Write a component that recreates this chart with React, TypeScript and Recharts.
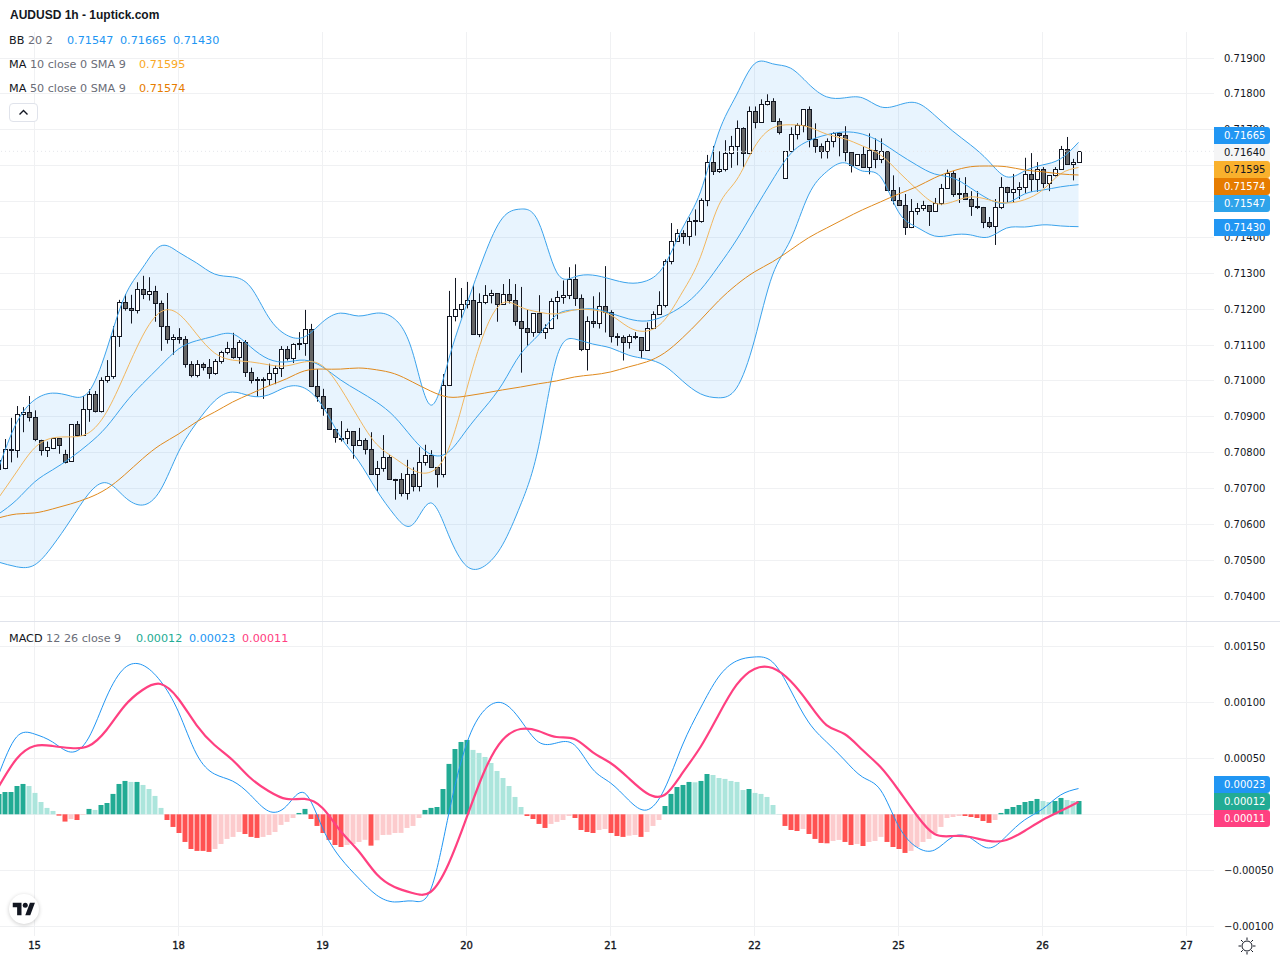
import { Area, Bar, CartesianGrid, Cell, ComposedChart, Line, ReferenceLine, XAxis, YAxis } from "recharts";

// candles, in price points (0.00001), one per hour
const opens = [
  70754,70757,70810,70807,70907,70913,70899,70836,70807,70814,
  70840,70796,70776,70879,70849,70921,70963,70917,71002,71013,
  71124,71219,71202,71197,71255,71241,71250,71216,71152,71116,
  71122,71116,71046,71016,71046,71038,71021,71055,71080,71091,
  71066,71108,71024,71005,71005,71005,71021,71035,71088,71063,
  71102,71105,71144,70987,70957,70924,70865,70842,70840,70860,
  70821,70835,70810,70740,70757,70787,70726,70726,70687,70740,
  70706,70773,70793,70759,70740,70988,71180,71200,71214,71225,
  71130,71219,71239,71244,71214,71241,71225,71166,71147,71137,
  71189,71136,71147,71222,71233,71239,71283,71230,71088,71166,
  71161,71208,71191,71124,71122,71108,71122,71122,71085,71147,
  71186,71211,71333,71389,71411,71403,71445,71447,71503,71609,
  71584,71590,71634,71654,71704,71634,71751,71721,71771,71779,
  71724,71565,71640,71687,71712,71757,71673,71654,71640,71668,
  71690,71685,71637,71601,71632,71595,71643,71618,71640,71531,
  71503,71490,71429,71474,71482,71490,71474,71496,71538,71580,
  71521,71524,71507,71488,71485,71443,71432,71485,71541,71527,
  71535,71541,71577,71563,71591,71552,71574,71591,71646,71605,
  71610,
];
const highs = [
  70789,70838,70897,70930,70927,70958,70918,70836,70831,70840,
  70840,70808,70879,70888,70958,70977,70972,71010,71058,71153,
  71226,71242,71240,71275,71293,71289,71265,71224,71245,71130,
  71147,71125,71055,71058,71051,71061,71061,71084,71109,71134,
  71114,71114,71037,71011,71010,71048,71043,71097,71097,71105,
  71136,71198,71159,71033,70978,70924,70865,70888,70867,70860,
  70869,70840,70857,70777,70849,70794,70727,70743,70780,70759,
  70815,70822,70807,70759,71019,71251,71287,71259,71276,71267,
  71244,71267,71254,71244,71270,71284,71270,71262,71200,71189,
  71239,71158,71230,71251,71280,71317,71325,71241,71180,71236,
  71247,71320,71197,71133,71127,71130,71136,71122,71163,71194,
  71250,71339,71440,71423,71420,71456,71478,71509,71630,71655,
  71640,71671,71683,71726,71707,71765,71765,71785,71799,71788,
  71732,71640,71707,71718,71757,71765,71718,71662,71676,71693,
  71693,71710,71637,71632,71654,71690,71676,71676,71640,71573,
  71540,71521,71507,71496,71502,71490,71510,71549,71589,71585,
  71566,71568,71529,71529,71485,71457,71507,71568,71541,71577,
  71554,71622,71635,71610,71596,71574,71596,71655,71680,71619,
  71640,
];
const lows = [
  70750,70754,70773,70786,70857,70887,70832,70792,70788,70810,
  70797,70770,70776,70845,70849,70886,70912,70912,70995,71006,
  71095,71196,71160,71188,71228,71224,71165,71084,71104,71073,
  71104,71037,71010,71010,71029,71006,71017,71048,71074,71062,
  71048,71011,70993,70956,70950,70986,70991,71011,71057,71050,
  71086,71070,70983,70942,70903,70865,70828,70831,70824,70783,
  70821,70795,70740,70692,70747,70726,70669,70678,70669,70692,
  70692,70764,70759,70703,70731,70988,71166,71175,71202,71130,
  71122,71214,71216,71165,71214,71216,71154,71023,71098,71123,
  71133,71117,71144,71172,71215,71228,71209,71083,71029,71148,
  71146,71135,71107,71098,71057,71090,71116,71063,71085,71147,
  71186,71205,71325,71389,71382,71377,71405,71441,71487,71574,
  71580,71584,71594,71601,71596,71632,71704,71721,71768,71724,
  71687,71565,71640,71673,71693,71651,71636,71620,71620,71651,
  71626,71612,71581,71601,71595,71576,71593,71607,71531,71492,
  71490,71407,71426,71463,71474,71432,71474,71490,71538,71513,
  71496,71507,71460,71479,71426,71426,71379,71479,71496,71496,
  71507,71524,71527,71527,71538,71529,71570,71588,71602,71559,
  71610,
];
const closes = [
  70780,70810,70808,70907,70913,70899,70837,70807,70815,70840,
  70821,70775,70879,70848,70921,70963,70917,71002,71013,71124,
  71219,71202,71197,71255,71241,71250,71216,71152,71116,71122,
  71116,71046,71016,71046,71038,71021,71055,71080,71091,71066,
  71108,71024,71002,71003,71002,71021,71035,71088,71063,71102,
  71105,71144,70987,70957,70924,70865,70843,70839,70860,70821,
  70835,70810,70740,70757,70787,70726,70727,70687,70740,70706,
  70773,70793,70759,70740,70988,71180,71200,71214,71225,71130,
  71219,71239,71244,71214,71241,71225,71166,71147,71137,71189,
  71136,71147,71222,71233,71239,71283,71230,71088,71166,71161,
  71208,71191,71124,71122,71108,71124,71124,71085,71147,71186,
  71211,71333,71389,71411,71403,71445,71448,71503,71609,71584,
  71590,71634,71654,71704,71634,71751,71721,71771,71779,71724,
  71693,71640,71687,71712,71757,71673,71654,71640,71668,71690,
  71685,71637,71601,71632,71595,71643,71618,71640,71531,71503,
  71490,71429,71474,71482,71490,71474,71496,71538,71580,71521,
  71524,71507,71488,71485,71443,71432,71485,71541,71527,71535,
  71541,71577,71563,71591,71552,71574,71591,71646,71605,71610,
  71640,
];

const LINE_STEP = 3;
const bbUpper = [
  70757,70883,70947,70966,70958,70969,71086,71234,71315,71376,
  71359,71329,71298,71290,71262,71178,71128,71123,71164,71189,
  71181,71189,71173,71081,70933,71058,71212,71351,71454,71479,
  71443,71304,71290,71295,71284,71273,71279,71323,71426,71527,
  71691,71797,71884,71884,71872,71828,71792,71789,71789,71764,
  71769,71775,71741,71697,71658,71613,71569,71585,71602,71619,
  71665,
];
const bbMiddle = [
  70629,70668,70718,70752,70785,70824,70872,70936,70992,71042,
  71089,71112,71125,71131,71095,71061,71053,71058,71039,71003,
  70972,70941,70900,70841,70796,70802,70863,70925,70992,71075,
  71128,71184,71198,71201,71189,71173,71167,71181,71209,71254,
  71320,71393,71477,71560,71633,71669,71686,71694,71688,71666,
  71633,71602,71577,71566,71538,71507,71496,71521,71532,71541,
  71547,
];
const bbLower = [
  70495,70482,70487,70540,70612,70685,70716,70677,70654,70696,
  70802,70883,70944,70969,70958,70961,70983,70980,70930,70844,
  70777,70696,70626,70599,70660,70571,70484,70484,70543,70654,
  70816,71064,71117,71103,71092,71072,71061,71042,71000,70964,
  70953,70980,71114,71295,71393,71518,71583,71608,71585,71569,
  71471,71429,71404,71407,71407,71401,71426,71429,71435,71432,
  71430,
];
const ma10 = [
  70674,70746,70813,70841,70844,70855,70913,71017,71125,71192,
  71187,71131,71078,71058,71053,71045,71042,71053,71042,70980,
  70897,70824,70785,70752,70746,70810,70975,71136,71217,71206,
  71192,71187,71198,71198,71184,71150,71139,71170,71248,71346,
  71488,71560,71652,71705,71714,71708,71688,71675,71655,71630,
  71583,71535,71496,71499,71513,71505,71496,71505,71532,71577,
  71595,
];
const ma50 = [
  70618,70629,70632,70643,70657,70674,70699,70738,70783,70822,
  70852,70886,70913,70941,70964,70986,71006,71028,71033,71033,
  71036,71031,71020,70997,70972,70955,70958,70966,70975,70983,
  70992,71000,71011,71017,71025,71039,71053,71078,71120,71170,
  71223,71268,71304,71332,71365,71399,71426,71452,71477,71499,
  71521,71541,71566,71585,71597,71599,71597,71588,71583,71577,
  71574,
];

// MACD pane, in millionths
const histogram = [
  182,199,199,253,271,253,191,110,57,30,
  -12,-65,-42,-51,-6,48,39,83,101,182,
  271,298,289,289,262,226,164,57,-51,-113,
  -167,-247,-310,-327,-327,-336,-310,-265,-220,-202,
  -158,-176,-202,-211,-202,-185,-158,-95,-68,-33,
  12,48,-42,-104,-167,-229,-274,-292,-274,-265,
  -247,-228,-280,-232,-185,-183,-167,-166,-122,-104,
  -33,39,57,65,226,450,583,646,664,575,
  548,512,458,387,324,253,155,65,-15,-42,
  -86,-122,-86,-68,-51,-15,-33,-140,-158,-167,
  -140,-131,-167,-194,-202,-191,-185,-202,-158,-104,
  -51,74,182,244,262,289,286,298,360,351,
  324,316,298,289,217,226,191,182,155,83,
  3,-104,-140,-149,-131,-176,-220,-256,-259,-238,
  -229,-247,-274,-265,-283,-247,-238,-202,-247,-292,
  -310,-345,-327,-292,-247,-220,-170,-113,-33,-24,
  -15,-15,-24,-33,-60,-77,-51,12,48,65,
  83,110,119,137,119,110,119,146,128,119,
  119,
];
const macdLine = [
  351,690,717,646,556,681,1047,1306,1333,1190,
  914,538,360,297,172,29,74,190,-122,-390,
  -569,-721,-783,-774,-676,-6,628,931,994,842,
  646,637,619,405,280,128,38,226,619,949,
  1226,1369,1405,1360,1110,824,646,485,333,217,
  -104,-292,-319,-203,-212,-301,-194,-51,47,172,
  230,
];
const signalLine = [
  244,494,610,610,592,610,753,967,1110,1164,
  1030,797,619,485,324,208,137,137,56,-149,
  -328,-533,-649,-703,-694,-444,-33,387,663,762,
  744,690,672,556,458,324,190,172,369,601,
  887,1155,1298,1306,1190,994,797,717,574,422,
  217,-6,-176,-194,-203,-238,-229,-149,-51,29,
  110,
];

// bar number of each day label
const dayTicks = [6, 30, 54, 78, 102, 126, 150, 174, 198];
const dayLabels = ["15", "18", "19", "20", "21", "22", "25", "26", "27"];
const priceGrid = [0.704, 0.705, 0.706, 0.707, 0.708, 0.709, 0.71, 0.711, 0.712, 0.713, 0.714, 0.715, 0.716, 0.717, 0.718, 0.719];
// 0.71500 and 0.71600 sit fully under the value tags
const priceLabels = [0.704, 0.705, 0.706, 0.707, 0.708, 0.709, 0.71, 0.711, 0.712, 0.713, 0.714, 0.717, 0.718, 0.719];
const macdGrid = [-0.001, -0.0005, 0, 0.0005, 0.001, 0.0015];
const macdLabels = [-0.001, -0.0005, 0.0005, 0.001, 0.0015];
const lastClose = 0.7164;

const sampled = (list: number[], i: number, unit: number) =>
  i % LINE_STEP === 0 ? list[i / LINE_STEP] * unit : null;

const priceRows = opens.map((open, i) => ({
  i,
  range: [lows[i] * 1e-5, highs[i] * 1e-5],
  open: open * 1e-5,
  high: highs[i] * 1e-5,
  low: lows[i] * 1e-5,
  close: closes[i] * 1e-5,
  band: i % LINE_STEP === 0 ? [bbLower[i / LINE_STEP] * 1e-5, bbUpper[i / LINE_STEP] * 1e-5] : null,
  upper: sampled(bbUpper, i, 1e-5),
  middle: sampled(bbMiddle, i, 1e-5),
  lower: sampled(bbLower, i, 1e-5),
  ma10: sampled(ma10, i, 1e-5),
  ma50: sampled(ma50, i, 1e-5),
}));

const macdRows = histogram.map((h, i) => ({
  i,
  hist: h * 1e-6,
  macd: sampled(macdLine, i, 1e-6),
  signal: sampled(signalLine, i, 1e-6),
}));

const histColor = (i: number) => {
  const v = histogram[i];
  const prev = i > 0 ? histogram[i - 1] : v;
  if (v >= 0) return v >= prev ? "#22ab94" : "#ace5dc";
  return v <= prev ? "#ff5252" : "#fccbcd";
};

const UI_FONT = "'DejaVu Sans', sans-serif";
const TEXT = "#131722";
const GRID = "#f0f1f3";
const PLOT_WIDTH = 1214;
const X_DOMAIN = [0.25, 202.583];
const PRICE_DOMAIN = [0.703308, 0.719726];
const PRICE_HEIGHT = 589;
const MACD_DOMAIN = [-0.0010868, 0.0017173];
const MACD_HEIGHT = 314;

const gridX = () => dayTicks.map((t) => ((t - X_DOMAIN[0]) / (X_DOMAIN[1] - X_DOMAIN[0])) * PLOT_WIDTH);
const gridY = (values: number[], domain: number[], height: number) => () =>
  values.map((v) => Math.floor(((domain[1] - v) / (domain[1] - domain[0])) * height) + 0.5);

function Candle(props: any) {
  const { x, y, width, height, payload } = props;
  const cx = Math.floor(x + width / 2) + 0.5;
  const span = payload.high - payload.low || 1e-9;
  const top = Math.max(payload.open, payload.close);
  const bottom = Math.min(payload.open, payload.close);
  const bodyTop = Math.round(y + ((payload.high - top) / span) * height) + 0.5;
  const bodyBottom = Math.max(Math.round(y + ((payload.high - bottom) / span) * height) + 0.5, bodyTop + 1);
  const up = payload.close >= payload.open;
  return (
    <g>
      <line x1={cx} x2={cx} y1={y} y2={y + height} stroke="#131722" strokeWidth={1} />
      <rect x={cx - 2} y={bodyTop} width={4} height={bodyBottom - bodyTop} fill={up ? "#ffffff" : "#666666"} stroke="#131722" strokeWidth={1} />
    </g>
  );
}

function Tag({ top, text, bg, color }: { top: number; text: string; bg: string; color: string }) {
  return (
    <div style={{ position: "absolute", left: 1214, top, width: 46, paddingLeft: 10, height: 17, background: bg, color, borderRadius: "0 3px 3px 0", fontSize: 10, lineHeight: "17px", fontFamily: UI_FONT }}>
      {text}
    </div>
  );
}

function Legend({ top, name, args, values }: { top: number; name: string; args: string; values: { x: number; text: string; color: string }[] }) {
  return (
    <>
      <div style={{ position: "absolute", left: 9, top, fontSize: 11.2, lineHeight: "16px", whiteSpace: "pre", fontFamily: UI_FONT, color: TEXT }}>
        {name} <span style={{ color: "#6a6d78" }}>{args}</span>
      </div>
      {values.map((v) => (
        <div key={v.x} style={{ position: "absolute", left: v.x, top, fontSize: 11.2, lineHeight: "16px", fontFamily: UI_FONT, color: v.color }}>{v.text}</div>
      ))}
    </>
  );
}

export default function App() {
  return (
    <div style={{ position: "absolute", left: 0, top: 0, width: 1280, height: 960, background: "#fff", overflow: "hidden" }}>
      <div style={{ position: "absolute", left: 0, top: 32 }}>
        <ComposedChart width={1280} height={PRICE_HEIGHT} data={priceRows} margin={{ top: 0, right: 0, bottom: 0, left: 0 }} barSize={5}>
          <CartesianGrid stroke={GRID} verticalCoordinatesGenerator={gridX} horizontalCoordinatesGenerator={gridY(priceGrid, PRICE_DOMAIN, PRICE_HEIGHT)} />
          <XAxis type="number" dataKey="i" domain={X_DOMAIN} ticks={dayTicks} allowDataOverflow hide />
          <YAxis orientation="right" width={66} domain={PRICE_DOMAIN} ticks={priceLabels} interval={0} allowDataOverflow axisLine={false} tickLine={false} tickSize={0} tickMargin={10}
            tickFormatter={(v: number) => v.toFixed(5)} tick={{ fontSize: 10, fill: TEXT, fontFamily: UI_FONT }} />
          <ReferenceLine y={lastClose} stroke="#e4e6eb" strokeDasharray="1 3" />
          <Area type="natural" dataKey="band" stroke="none" fill="#2196f3" fillOpacity={0.1} connectNulls isAnimationActive={false} dot={false} activeDot={false} />
          <Line type="natural" dataKey="upper" stroke="#3ba3ec" strokeWidth={1} dot={false} connectNulls isAnimationActive={false} />
          <Line type="natural" dataKey="middle" stroke="#3ba3ec" strokeWidth={1} dot={false} connectNulls isAnimationActive={false} />
          <Line type="natural" dataKey="lower" stroke="#3ba3ec" strokeWidth={1} dot={false} connectNulls isAnimationActive={false} />
          <Line type="natural" dataKey="ma10" stroke="#f2b75f" strokeWidth={1} dot={false} connectNulls isAnimationActive={false} />
          <Line type="natural" dataKey="ma50" stroke="#e08a1e" strokeWidth={1} dot={false} connectNulls isAnimationActive={false} />
          <Bar dataKey="range" shape={Candle} isAnimationActive={false} />
        </ComposedChart>
      </div>
      <div style={{ position: "absolute", left: 0, top: 621, width: 1280, height: 1, background: "#e0e3eb" }} />
      <div style={{ position: "absolute", left: 0, top: 622 }}>
        <ComposedChart width={1280} height={338} data={macdRows} margin={{ top: 0, right: 0, bottom: 0, left: 0 }} barSize={5}>
          <CartesianGrid stroke={GRID} verticalCoordinatesGenerator={gridX} horizontalCoordinatesGenerator={gridY(macdGrid, MACD_DOMAIN, MACD_HEIGHT)} />
          <XAxis type="number" dataKey="i" domain={X_DOMAIN} ticks={dayTicks} interval={0} allowDataOverflow height={24} axisLine={false} tickLine={false} tickSize={0} tickMargin={6}
            tickFormatter={(v: number) => dayLabels[dayTicks.indexOf(v)]} tick={{ fontSize: 10, fill: TEXT, stroke: TEXT, strokeWidth: 0.35, fontFamily: UI_FONT }} />
          <YAxis orientation="right" width={66} domain={MACD_DOMAIN} ticks={macdLabels} interval={0} allowDataOverflow axisLine={false} tickLine={false} tickSize={0} tickMargin={10}
            tickFormatter={(v: number) => (v < 0 ? "\u2212" : "") + Math.abs(v).toFixed(5)} tick={{ fontSize: 10, fill: TEXT, fontFamily: UI_FONT, textAnchor: "start" }} />
          <Bar dataKey="hist" isAnimationActive={false}>
            {macdRows.map((r) => (
              <Cell key={r.i} fill={histColor(r.i)} />
            ))}
          </Bar>
          <Line type="natural" dataKey="macd" stroke="#2196f3" strokeWidth={1} dot={false} connectNulls isAnimationActive={false} />
          <Line type="natural" dataKey="signal" stroke="#ff4081" strokeWidth={2.2} dot={false} connectNulls isAnimationActive={false} />
        </ComposedChart>
      </div>

      <div style={{ position: "absolute", left: 10, top: 8, fontSize: 12, fontWeight: 700, lineHeight: "15px", fontFamily: "'Liberation Sans', sans-serif", color: TEXT }}>AUDUSD 1h - 1uptick.com</div>
      <Legend top={33} name="BB" args="20 2" values={[{ x: 67, text: "0.71547", color: "#2196f3" }, { x: 120, text: "0.71665", color: "#2196f3" }, { x: 173, text: "0.71430", color: "#2196f3" }]} />
      <Legend top={57} name="MA" args="10 close 0 SMA 9" values={[{ x: 139, text: "0.71595", color: "#f9a825" }]} />
      <Legend top={81} name="MA" args="50 close 0 SMA 9" values={[{ x: 139, text: "0.71574", color: "#e67c00" }]} />
      <Legend top={631} name="MACD" args="12 26 close 9" values={[{ x: 136, text: "0.00012", color: "#22ab94" }, { x: 189, text: "0.00023", color: "#2196f3" }, { x: 242, text: "0.00011", color: "#ff4081" }]} />

      <div style={{ position: "absolute", left: 9, top: 103, width: 27, height: 17, border: "1px solid #e0e3eb", borderRadius: 4, background: "#fff" }}>
        <svg width={27} height={17}><path d="M9.5 10.5 L13.5 6.5 L17.5 10.5" fill="none" stroke={TEXT} strokeWidth={1.4} /></svg>
      </div>

      <Tag top={127} text="0.71665" bg="#2196f3" color="#fff" />
      <Tag top={144} text="0.71640" bg="#f5f5f6" color={TEXT} />
      <Tag top={161} text="0.71595" bg="#f9b12d" color={TEXT} />
      <Tag top={178} text="0.71574" bg="#e67c00" color="#fff" />
      <Tag top={195} text="0.71547" bg="#2ea3ea" color="#fff" />
      <Tag top={219} text="0.71430" bg="#2196f3" color="#fff" />
      <Tag top={776} text="0.00023" bg="#2196f3" color="#fff" />
      <Tag top={793} text="0.00012" bg="#22ab94" color="#fff" />
      <Tag top={810} text="0.00011" bg="#ff4081" color="#fff" />

      <div style={{ position: "absolute", left: 9, top: 894, width: 30, height: 30, borderRadius: 15, background: "#fff", boxShadow: "0 1px 4px rgba(0,0,0,0.2)" }}>
        <svg width={30} height={30} viewBox="-6 -7 48 42">
          <path d="M14 24H7V11H0V4h14v20zM28 24h-8l7.5-20h8L28 24z" fill={TEXT} />
          <circle cx={20} cy={8} r={4} fill={TEXT} />
        </svg>
      </div>
      <svg style={{ position: "absolute", left: 1238, top: 937 }} width={18} height={18}>
        <circle cx={9} cy={9} r={5} fill="none" stroke={TEXT} strokeWidth={1} />
        <path d="M9 0.5V3M9 15V17.5M0.5 9H3M15 9H17.5M3 3L4.8 4.8M13.2 13.2L15 15M3 15L4.8 13.2M13.2 4.8L15 3" stroke={TEXT} strokeWidth={1} />
      </svg>
    </div>
  );
}
